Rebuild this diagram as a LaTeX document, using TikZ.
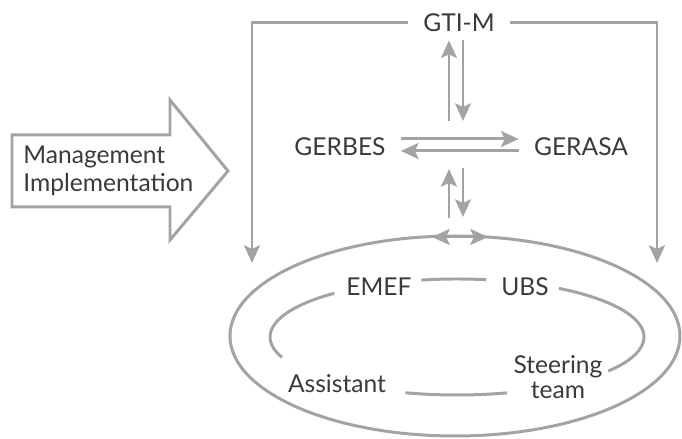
\documentclass[tikz,border=0pt]{standalone}
\usepackage{fontspec}
\setmainfont{Lato}
\usepackage{tikz}
\usetikzlibrary{arrows.meta}
\definecolor{GrisLinea}{HTML}{A3A3A3}
\definecolor{GrisTexto}{HTML}{3A3A3A}

\begin{document}
\begin{tikzpicture}[font=\fontsize{14}{16}\selectfont,
  linea/.style={GrisLinea,line width=1.7pt},
  flecha/.style={linea,-{Stealth[length=10pt,width=9pt,inset=2pt]}},
  flechas/.style={linea,{Stealth[length=10pt,width=9pt,inset=2pt]}-{Stealth[length=10pt,width=9pt,inset=2pt]}},
  etiqueta/.style={text=GrisTexto,inner xsep=0.3cm,inner ysep=0.17cm}]
  \useasboundingbox (0,0) rectangle (13.64,8.78);
  % arrow on the left
  \draw[linea] (0.24,6.08)--(3.40,6.08)--(3.40,6.78)--(4.56,5.36)
    --(3.40,3.98)--(3.40,4.64)--(0.24,4.64)--cycle;
  \node[text=GrisTexto,anchor=west,align=left,inner sep=0pt] (gestion) at (0.46,5.36)
    {Management\\Implementation};
  % top of the hierarchy
  \node[etiqueta] (gtim) at (9.18,8.33) {GTI-M};
  \node[etiqueta] (gerbes) at (6.80,5.84) {GERBES};
  \node[etiqueta] (gerasa) at (11.62,5.84) {GERASA};
  \coordinate (cruce) at (9.12,5.88);
  \coordinate (anillo) at (9.20,4.04);
  \coordinate (izq) at (5.04,3.52);
  \coordinate (der) at (13.14,3.52);
  \draw[flecha] (gtim.west) -| (izq);
  \draw[flecha] (gtim.east) -| (der);
  \draw[flecha] ([xshift=-1.4mm,yshift=4.8mm]cruce) -- ([xshift=-1.4mm]cruce |- gtim.south);
  \draw[flecha] ([xshift=1.4mm]cruce |- gtim.south) -- ([xshift=1.4mm,yshift=4.8mm]cruce);
  \draw[flecha] ([yshift=1.2mm]cruce -| gerbes.east) -- ([yshift=1.2mm]cruce -| gerasa.west);
  \draw[flecha] ([yshift=-1.2mm]cruce -| gerasa.west) -- ([yshift=-1.2mm]cruce -| gerbes.east);
  \draw[flecha] ([xshift=-1.4mm,yshift=-14.6mm]cruce) -- ([xshift=-1.4mm,yshift=-4.8mm]cruce);
  \draw[flecha] ([xshift=1.4mm,yshift=-4.6mm]cruce) -- ([xshift=1.4mm,yshift=-14.4mm]cruce);
  % the ring
  \draw[linea] (9.10,2.06) ellipse [x radius=4.50, y radius=2.00];
  \draw[flechas] ([xshift=-5.6mm]anillo) -- ([xshift=5.6mm]anillo);
  \coordinate (centro) at (9.14,2.04);
  \foreach \a/\b in {81/101,-36/57,254/285.5,131/200.6}{
    \draw[linea] (centro) ++(\a:3.74 and 1.16)
      arc[start angle=\a,end angle=\b,x radius=3.74,y radius=1.16];
  }
  \node[etiqueta] (emef) at (7.58,3.04) {EMEF};
  \node[etiqueta] (ubs) at (10.50,3.04) {UBS};
  \node[etiqueta] (asistente) at (6.74,1.10) {Assistant};
  \node[etiqueta,align=center,font=\fontsize{14}{14.5}\selectfont] (equipo) at (11.16,1.24)
    {Steering\\team};
\end{tikzpicture}
\end{document}
